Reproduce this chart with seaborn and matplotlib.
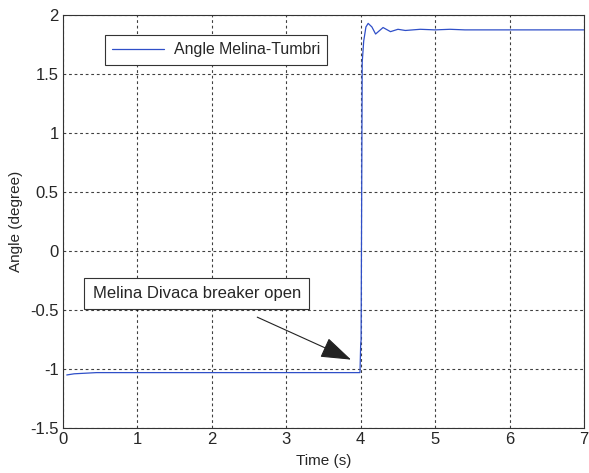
import matplotlib.pyplot as plt
import seaborn as sns
import pandas as pd

# values
time = [0.05, 0.15, 0.3, 0.45, 0.6, 1.0, 2.0, 3.0, 3.99, 4.0, 4.005, 4.02, 4.04, 4.07, 4.1, 4.15, 4.2, 4.3, 4.4, 4.5, 4.6, 4.8, 5.0, 5.2, 5.4, 6.0, 7.0]
angle = [-1.05, -1.04, -1.035, -1.03, -1.03, -1.03, -1.03, -1.03, -1.03, -0.78, -0.76, 1.6, 1.78, 1.9, 1.93, 1.9, 1.84, 1.895, 1.86, 1.88, 1.87, 1.88, 1.875, 1.88, 1.875, 1.875, 1.875]

df = pd.DataFrame({'Time': time, 'Angle': angle})

sns.set_style('white')
plt.rcParams['font.family'] = ['Liberation Sans', 'DejaVu Sans']

fig, ax = plt.subplots(figsize=(5.89, 4.73), dpi=100)
fig.subplots_adjust(left=0.107, right=0.9915, top=0.968, bottom=0.095)

sns.lineplot(data=df, x='Time', y='Angle', ax=ax, color='#2f4fc8', linewidth=0.9,
             label='Angle Melina-Tumbri', estimator=None, sort=False)

ax.set_xlim(0, 7)
ax.set_ylim(-1.5, 2)
ax.set_xticks(range(0, 8))
ax.set_yticks([-1.5, -1, -0.5, 0, 0.5, 1, 1.5, 2])
ax.set_yticklabels(['-1.5', '-1', '-0.5', '0', '0.5', '1', '1.5', '2'])
ax.grid(True, color='black', linestyle=(0, (2.5, 2.5)), linewidth=0.8, alpha=0.75)
for s in ax.spines.values():
    s.set_color('#333333')
    s.set_linewidth(0.8)
ax.tick_params(axis='both', labelsize=12, direction='in', length=3, color='black', pad=3)
ax.set_xlabel('Time (s)', fontsize=11, labelpad=5)
ax.set_ylabel('Angle (degree)', fontsize=11, labelpad=5)

leg = ax.legend(loc='upper left', bbox_to_anchor=(0.08, 0.951), borderaxespad=0,
                fontsize=11.4, fancybox=False, framealpha=1, edgecolor='#333333',
                handlelength=3.3, borderpad=0.45, handletextpad=0.6)
leg.get_frame().set_linewidth(0.8)

ax.text(0.40, -0.36, 'Melina Divaca breaker open', fontsize=12, va='center', ha='left',
        bbox=dict(boxstyle='square,pad=0.5', fc='white', ec='#333333', lw=0.8))
ax.annotate('', xy=(3.87, -0.92), xytext=(2.61, -0.56),
            arrowprops=dict(arrowstyle='-|>,head_length=1.6,head_width=0.55', color='#222222',
                            lw=0.8, shrinkA=0, shrinkB=0, mutation_scale=12))

plt.savefig('out.png', dpi=100)
